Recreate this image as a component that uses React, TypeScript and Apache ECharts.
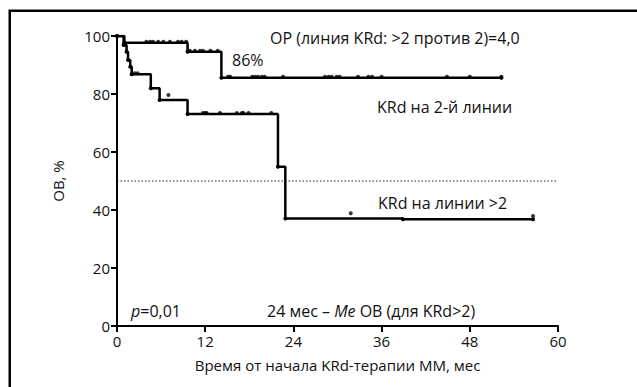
import React, { useEffect, useRef } from "react";
import * as echarts from "echarts";

// Kaplan–Meier: KRd на 2-й линии (event times, survival after event)
const line2Times = [0, 1.0, 9.6, 14.2, 52.3];
const line2Surv = [100, 97.7, 94.6, 85.6, 85.6];
const line2CensorTimes = [
  4.0, 4.5, 4.9, 5.6, 6.3, 7.2, 8.3, 8.8, 9.4,
  9.9, 10.6, 11.3, 11.7, 12.7, 13.7,
  15.1, 15.4, 18.4, 18.8, 19.2, 19.7, 20.1, 22.6, 28.3, 28.8, 29.2, 29.9, 30.3,
  32.8, 34.2, 34.7, 36.0, 44.9, 48.0, 52.3,
];
const line2CensorSurv = [
  97.7, 97.7, 97.7, 97.7, 97.7, 97.7, 97.7, 97.7, 97.7,
  94.6, 94.6, 94.6, 94.6, 94.6, 94.6,
  85.6, 85.6, 85.6, 85.6, 85.6, 85.6, 85.6, 85.6, 85.6, 85.6, 85.6, 85.6, 85.6,
  85.6, 85.6, 85.6, 85.6, 85.6, 85.6, 85.6,
];

// KRd на линии >2
const lineGt2Times = [0, 0.9, 1.3, 1.5, 1.8, 2.0, 4.6, 5.8, 9.6, 21.9, 22.9, 38.9, 56.6];
const lineGt2Surv = [100, 96.9, 94.6, 91.7, 89.4, 86.8, 82.0, 77.9, 73.1, 54.9, 37.1, 36.8, 36.8];
const lineGt2CensorTimes = [2.4, 2.8, 7.0, 11.7, 12.0, 12.2, 14.0, 16.3, 17.0, 17.2, 17.9, 21.0, 31.8, 56.6];
const lineGt2CensorSurv = [86.8, 86.8, 79.3, 73.1, 73.1, 73.1, 73.1, 73.1, 73.1, 73.1, 73.1, 73.1, 38.5, 37.6];

const medianLevel = [50, 50];
const medianRange = [0, 60];

const xTickValues = [0, 12, 24, 36, 48, 60];
const yTickValues = [0, 20, 40, 60, 80, 100];

const FONT = "'Open Sans', 'Noto Sans', sans-serif";

export default function App() {
  const ref = useRef<HTMLDivElement>(null);
  useEffect(() => {
    if (!ref.current) return;
    const chart = echarts.init(ref.current, undefined, { renderer: "svg" });
    const zip = (a: number[], b: number[]) => a.map((v, i) => [v, b[i]]);
    const textStyle = { fontSize: 16, fontFamily: FONT, fill: "#111" };
    const italic = { fontStyle: "italic", fontSize: 16, fontFamily: FONT, fill: "#111" };
    chart.setOption({
      animation: false,
      backgroundColor: "#fff",
      grid: { left: 117, right: 79, top: 36, bottom: 61, containLabel: false },
      xAxis: {
        type: "value",
        min: xTickValues[0],
        max: xTickValues[xTickValues.length - 1],
        interval: 12,
        name: "Время от начала KRd-терапии ММ, мес",
        nameLocation: "middle",
        nameGap: 31,
        nameTextStyle: { fontSize: 15, fontFamily: FONT, color: "#111" },
        axisLine: { show: true, onZero: false, lineStyle: { color: "#000", width: 2 } },
        axisTick: { show: true, length: 6, lineStyle: { color: "#000", width: 2 } },
        axisLabel: { fontSize: 15, fontFamily: FONT, color: "#111", margin: 7 },
        splitLine: { show: false },
      },
      yAxis: {
        type: "value",
        min: yTickValues[0],
        max: yTickValues[yTickValues.length - 1],
        interval: 20,
        name: "ОВ, %",
        nameLocation: "middle",
        nameGap: 52,
        nameTextStyle: { fontSize: 15, fontFamily: FONT, color: "#111" },
        axisLine: { show: true, onZero: false, lineStyle: { color: "#000", width: 2 } },
        axisTick: { show: true, length: 6, lineStyle: { color: "#000", width: 2 } },
        axisLabel: { fontSize: 15, fontFamily: FONT, color: "#111", margin: 7 },
        splitLine: { show: false },
      },
      series: [
        {
          type: "line",
          data: zip(medianRange, medianLevel),
          showSymbol: false,
          silent: true,
          lineStyle: { color: "#222", width: 1, type: [1.5, 2] },
        },
        {
          type: "line",
          step: "end",
          data: zip(line2Times, line2Surv),
          showSymbol: true,
          symbol: "circle",
          symbolSize: 4,
          itemStyle: { color: "#000" },
          lineStyle: { color: "#000", width: 2.5 },
        },
        {
          type: "line",
          step: "end",
          data: zip(lineGt2Times, lineGt2Surv),
          showSymbol: true,
          symbol: "circle",
          symbolSize: 4,
          itemStyle: { color: "#000" },
          lineStyle: { color: "#000", width: 2.5 },
        },
        {
          type: "scatter",
          data: zip(line2CensorTimes, line2CensorSurv),
          symbol: "circle",
          symbolSize: 4,
          symbolOffset: [0, -1],
          itemStyle: { color: "#000" },
        },
        {
          type: "scatter",
          data: zip(lineGt2CensorTimes, lineGt2CensorSurv),
          symbol: "circle",
          symbolSize: 4,
          symbolOffset: [0, -1],
          itemStyle: { color: "#000" },
        },
      ],
      graphic: [
        {
          type: "rect",
          shape: { x: 9.75, y: 10.75, width: 800, height: 600 },
          style: { fill: "none", stroke: "#000", lineWidth: 2.5 },
          silent: true,
        },
        {
          type: "text",
          x: 270,
          y: 38,
          style: { ...textStyle, text: "ОР (линия KRd: >2 против 2)=4,0", verticalAlign: "middle" },
        },
        {
          type: "text",
          x: 232,
          y: 60,
          style: { ...textStyle, text: "86%", verticalAlign: "middle" },
        },
        {
          type: "text",
          x: 377,
          y: 107,
          style: { ...textStyle, text: "KRd на 2-й линии", verticalAlign: "middle" },
        },
        {
          type: "text",
          x: 378,
          y: 203,
          style: { ...textStyle, text: "KRd на линии >2", verticalAlign: "middle" },
        },
        {
          type: "text",
          x: 131,
          y: 311,
          style: { ...textStyle, text: "{i|p}=0,01", verticalAlign: "middle", rich: { i: italic } },
        },
        {
          type: "text",
          x: 267,
          y: 311,
          style: {
            ...textStyle,
            text: "24 мес – {i|Me} ОВ (для KRd>2)",
            verticalAlign: "middle",
            rich: { i: italic },
          },
        },
      ],
    });
    return () => chart.dispose();
  }, []);
  return (
    <div
      ref={ref}
      style={{ position: "absolute", left: 0, top: 0, width: 637, height: 387, background: "#fff" }}
    />
  );
}
